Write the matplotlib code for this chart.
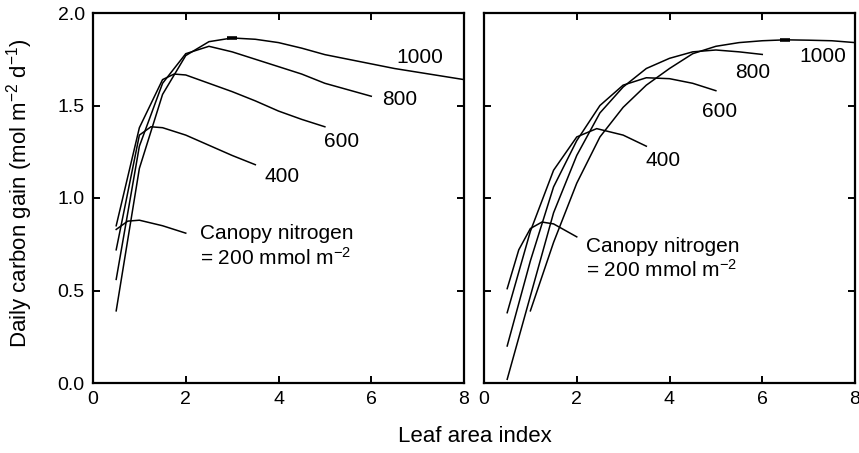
import matplotlib
matplotlib.use('Agg')
import matplotlib.pyplot as plt
import numpy as np

plt.rcParams['font.family'] = ['Liberation Sans', 'DejaVu Sans']
plt.rcParams['mathtext.fontset'] = 'custom'
plt.rcParams['mathtext.rm'] = 'Liberation Sans'
plt.rcParams['mathtext.it'] = 'Liberation Sans:italic'
plt.rcParams['mathtext.bf'] = 'Liberation Sans:bold'

# ---- data: left panel ----
left_200_x = [0.5, 0.75, 1.0, 1.5, 2.0]
left_200_y = [0.83, 0.875, 0.88, 0.85, 0.81]
left_400_x = [0.5, 1.0, 1.25, 1.5, 2.0, 2.5, 3.0, 3.5]
left_400_y = [0.72, 1.34, 1.385, 1.38, 1.34, 1.285, 1.23, 1.18]
left_600_x = [0.5, 1.0, 1.5, 1.75, 2.0, 2.5, 3.0, 3.5, 4.0, 4.5, 5.0]
left_600_y = [0.85, 1.38, 1.64, 1.67, 1.665, 1.62, 1.575, 1.525, 1.47, 1.425, 1.385]
left_800_x = [0.5, 1.0, 1.5, 2.0, 2.5, 3.0, 3.5, 4.0, 4.5, 5.0, 5.5, 6.0]
left_800_y = [0.56, 1.28, 1.62, 1.78, 1.82, 1.79, 1.75, 1.71, 1.67, 1.62, 1.585, 1.55]
left_1000_x = [0.5, 1.0, 1.5, 2.0, 2.5, 3.0, 3.5, 4.0, 4.5, 5.0, 5.5, 6.0, 6.5, 7.0, 7.5, 8.0]
left_1000_y = [0.39, 1.16, 1.56, 1.77, 1.845, 1.865, 1.858, 1.84, 1.81, 1.775, 1.75, 1.725, 1.70, 1.68, 1.66, 1.64]

# ---- data: right panel ----
right_200_x = [0.5, 0.75, 1.0, 1.25, 1.5, 2.0]
right_200_y = [0.51, 0.72, 0.835, 0.87, 0.86, 0.79]
right_400_x = [0.5, 1.0, 1.5, 2.0, 2.43, 3.0, 3.5]
right_400_y = [0.38, 0.82, 1.15, 1.33, 1.375, 1.34, 1.28]
right_600_x = [0.5, 1.0, 1.5, 2.0, 2.5, 3.0, 3.5, 4.0, 4.5, 5.0]
right_600_y = [0.20, 0.66, 1.06, 1.31, 1.50, 1.61, 1.65, 1.645, 1.62, 1.58]
right_800_x = [0.5, 1.0, 1.5, 2.0, 2.5, 3.0, 3.5, 4.0, 4.5, 5.0, 5.5, 6.0]
right_800_y = [0.02, 0.47, 0.92, 1.23, 1.46, 1.60, 1.70, 1.755, 1.79, 1.80, 1.79, 1.776]
right_1000_x = [1.0, 1.5, 2.0, 2.5, 3.0, 3.5, 4.0, 4.5, 5.0, 5.5, 6.0, 6.5, 7.0, 7.5, 8.0]
right_1000_y = [0.39, 0.76, 1.08, 1.33, 1.49, 1.61, 1.70, 1.78, 1.82, 1.84, 1.85, 1.855, 1.853, 1.85, 1.84]

curve_labels = ['400', '600', '800', '1000']
left_label_x = [4.07, 5.36, 6.62, 7.05]
left_label_y = [1.115, 1.304, 1.53, 1.757]
right_label_x = [3.86, 5.09, 5.80, 7.31]
right_label_y = [1.205, 1.467, 1.68, 1.765]

xticks = [0, 2, 4, 6, 8]
yticks = [0.0, 0.5, 1.0, 1.5, 2.0]

fig = plt.figure(figsize=(8.59, 4.53), dpi=100)
W, H = 859, 453
axL = fig.add_axes([93 / W, 1 - 383 / H, 371 / W, 370 / H])
axR = fig.add_axes([484 / W, 1 - 383 / H, 371 / W, 370 / H])

fs_tick = 14
fs_ann = 15
fs_lab = 16
lw = 1.1

left_series = [(left_200_x, left_200_y), (left_400_x, left_400_y), (left_600_x, left_600_y),
               (left_800_x, left_800_y), (left_1000_x, left_1000_y)]
right_series = [(right_200_x, right_200_y), (right_400_x, right_400_y), (right_600_x, right_600_y),
                (right_800_x, right_800_y), (right_1000_x, right_1000_y)]

for ax, series, lx, ly, ann in [
        (axL, left_series, left_label_x, left_label_y, (2.3, 0.81, 0.675)),
        (axR, right_series, right_label_x, right_label_y, (2.2, 0.737, 0.61))]:
    for xs, ys in series:
        ax.plot(xs, ys, color='black', lw=lw, solid_joinstyle='miter')
    # mark optimum of highest curve
    xs, ys = series[-1]
    i = int(np.argmax(ys))
    ax.plot([xs[i]], [ys[i]], marker='_', color='black', markersize=7, mew=2.6)
    for t, x, y in zip(curve_labels, lx, ly):
        ax.text(x, y, t, fontsize=fs_ann, ha='center', va='center')
    ax.text(ann[0], ann[1], 'Canopy nitrogen', fontsize=fs_ann, ha='left', va='center')
    ax.text(ann[0], ann[2], '= 200 mmol m$^{-2}$', fontsize=fs_ann, ha='left', va='center')
    ax.set_xlim(0, 8)
    ax.set_ylim(0, 2.0)
    ax.set_xticks(xticks)
    ax.set_yticks(yticks)
    ax.tick_params(direction='in', top=True, right=True, length=5, width=1.4,
                   labelsize=fs_tick, pad=6)
    for s in ax.spines.values():
        s.set_linewidth(1.6)

axL.set_yticklabels(['%.1f' % v for v in yticks])
axL.set_xticklabels([str(v) for v in xticks])
axR.set_xticklabels([str(v) for v in xticks])
axR.set_yticklabels([])

fig.text(475 / W, 1 - 436 / H, 'Leaf area index', fontsize=fs_lab, ha='center', va='center')
fig.text(20 / W, 1 - 193 / H, 'Daily carbon gain (mol m$^{-2}$ d$^{-1}$)', fontsize=fs_lab,
         ha='center', va='center', rotation=90)

fig.savefig('out.png', dpi=100)
